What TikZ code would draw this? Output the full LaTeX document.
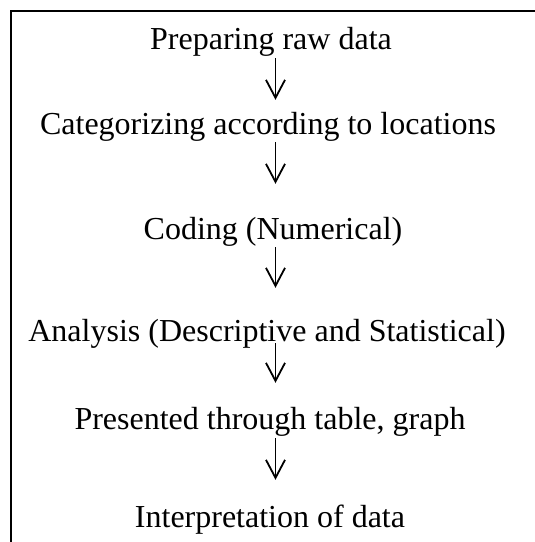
\documentclass[tikz,border=0pt]{standalone}
\usepackage{fontspec}
\setmainfont{Liberation Serif}
\usetikzlibrary{arrows.meta}

\tikzset{
  stage/.style={inner sep=0pt, anchor=base, text height=21pt, text depth=7pt,
    font=\fontsize{32}{36}\selectfont},
  flow/.style={line width=1.8pt,
    -{Straight Barb[length=18pt, width=19pt, line width=1.8pt]}},
  frame/.style={line width=2.4pt, line cap=butt}
}

\begin{document}
\begin{tikzpicture}[x=1pt, y=1pt]
  % page area and background
  \fill[white] (0,0) rectangle (535,-542);
  \useasboundingbox (0,0) rectangle (535,-542);

  % open frame: top and left edges only
  \draw[frame] (536,-11) -- (11,-11) -- (11,-543);

  % vertical spine for the arrows
  \coordinate (spine) at (275.5,0);

  % process stages
  \node[stage] (t1) at (271,-49)  {Preparing raw data};
  \node[stage] (t2) at (268,-134) {Categorizing according to locations};
  \node[stage] (t3) at (273,-239) {Coding (Numerical)};
  \node[stage] (t4) at (267,-341) {Analysis (Descriptive and Statistical)};
  \node[stage] (t5) at (270,-429) {Presented through table, graph};
  \node[stage] (t6) at (270,-527) {Interpretation of data};

  % arrows between consecutive stages
  \draw[flow, shorten <=2pt,  shorten >=13pt] (t1.south -| spine) -- (t2.north -| spine);
  \draw[flow, shorten <=1pt,  shorten >=34pt] (t2.south -| spine) -- (t3.north -| spine);
  \draw[flow, shorten <=1pt,  shorten >=32pt] (t3.south -| spine) -- (t4.north -| spine);
  \draw[flow, shorten <=-5pt, shorten >=25pt] (t4.south -| spine) -- (t5.north -| spine);
  \draw[flow, shorten <=2pt,  shorten >=26pt] (t5.south -| spine) -- (t6.north -| spine);
\end{tikzpicture}
\end{document}
